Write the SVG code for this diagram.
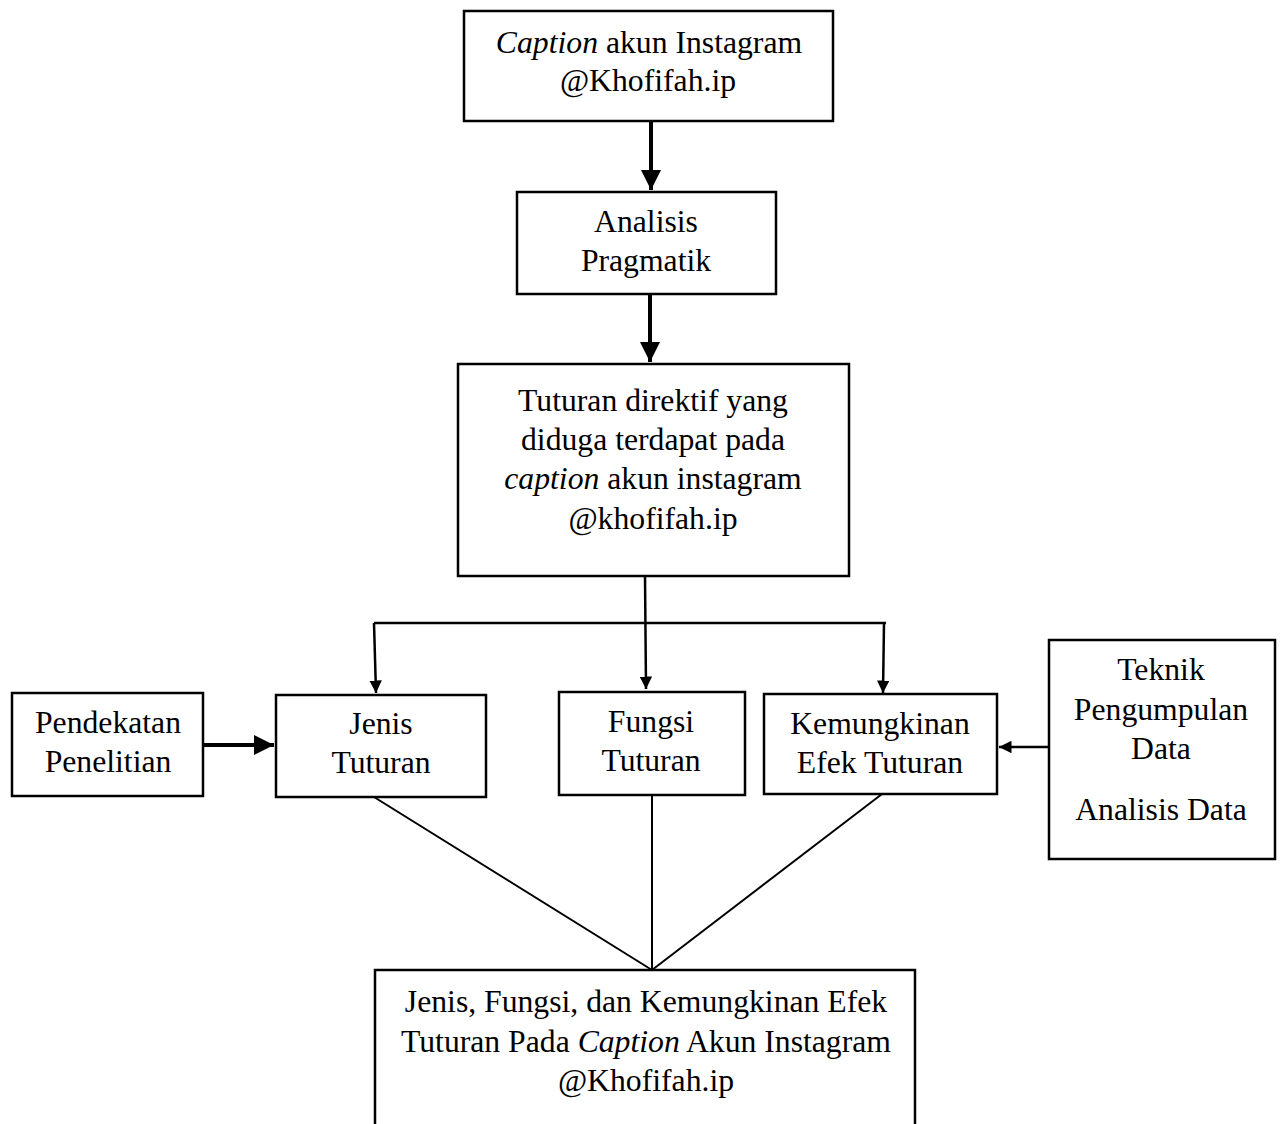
<svg xmlns="http://www.w3.org/2000/svg" width="1282" height="1124" viewBox="0 0 1282 1124">
<style>
.box{fill:#fff;stroke:#000;stroke-width:2.5}
.t{font-family:"Liberation Serif","Times New Roman",serif;font-size:31.7px;fill:#000;text-anchor:middle}
.c{fill:none;stroke:#000;stroke-width:2.5}
.ck{fill:none;stroke:#000;stroke-width:4}
.thin{fill:none;stroke:#000;stroke-width:2}
</style>
<defs>
<marker id="ah2" viewBox="0 0 10 10" refX="10" refY="5" markerWidth="5" markerHeight="5" orient="auto">
<path d="M0,0 L10,5 L0,10 z" fill="#000"/>
</marker>
</defs>
<rect width="1282" height="1124" fill="#fff"/>
<g id="connectors">
<line class="ck" x1="651" y1="121" x2="651" y2="190" marker-end="url(#ah2)"/>
<line class="ck" x1="650" y1="294" x2="650" y2="362" marker-end="url(#ah2)"/>
<line class="c" x1="645" y1="576" x2="646" y2="689" marker-end="url(#ah2)"/>
<line class="c" x1="374" y1="623" x2="886" y2="623"/>
<line class="c" x1="374" y1="623" x2="376" y2="693" marker-end="url(#ah2)"/>
<line class="c" x1="884" y1="623" x2="883" y2="693" marker-end="url(#ah2)"/>
<line class="ck" x1="204" y1="745" x2="274" y2="745" marker-end="url(#ah2)"/>
<line class="c" x1="1049" y1="747" x2="999" y2="747" marker-end="url(#ah2)"/>
<line class="thin" x1="374" y1="797" x2="652" y2="970"/>
<line class="thin" x1="652" y1="795" x2="652" y2="970"/>
<line class="thin" x1="882" y1="794" x2="652" y2="970"/>
</g>
<g id="n1">
<rect class="box" x="464" y="11" width="369" height="110"/>
<text class="t" x="649" y="53"><tspan font-style="italic">Caption</tspan> akun Instagram</text>
<text class="t" x="648" y="91">@Khofifah.ip</text>
</g>
<g id="n2">
<rect class="box" x="517" y="192" width="259" height="102"/>
<text class="t" x="646" y="232">Analisis</text>
<text class="t" x="646" y="271">Pragmatik</text>
</g>
<g id="n3">
<rect class="box" x="458" y="364" width="391" height="212"/>
<text class="t" x="653" y="411">Tuturan direktif yang</text>
<text class="t" x="653" y="450">diduga terdapat pada</text>
<text class="t" x="653" y="489"><tspan font-style="italic">caption</tspan> akun instagram</text>
<text class="t" x="653" y="529">@khofifah.ip</text>
</g>
<g id="n4">
<rect class="box" x="12" y="693" width="191" height="103"/>
<text class="t" x="108" y="733">Pendekatan</text>
<text class="t" x="108" y="772">Penelitian</text>
</g>
<g id="n5">
<rect class="box" x="276" y="695" width="210" height="102"/>
<text class="t" x="381" y="734">Jenis</text>
<text class="t" x="381" y="773">Tuturan</text>
</g>
<g id="n6">
<rect class="box" x="559" y="692" width="186" height="103"/>
<text class="t" x="651" y="732">Fungsi</text>
<text class="t" x="651" y="771">Tuturan</text>
</g>
<g id="n7">
<rect class="box" x="764" y="694" width="233" height="100"/>
<text class="t" x="880" y="734">Kemungkinan</text>
<text class="t" x="880" y="773">Efek Tuturan</text>
</g>
<g id="n8">
<rect class="box" x="1049" y="640" width="226" height="219"/>
<text class="t" x="1161" y="680">Teknik</text>
<text class="t" x="1161" y="720">Pengumpulan</text>
<text class="t" x="1161" y="759">Data</text>
<text class="t" x="1161" y="820">Analisis Data</text>
</g>
<g id="n9">
<path class="box" d="M375,1130 V970 H915 V1130"/>
<text class="t" x="646" y="1012">Jenis, Fungsi, dan Kemungkinan Efek</text>
<text class="t" x="646" y="1052">Tuturan Pada <tspan font-style="italic">Caption</tspan> Akun Instagram</text>
<text class="t" x="646" y="1091">@Khofifah.ip</text>
</g>
</svg>
